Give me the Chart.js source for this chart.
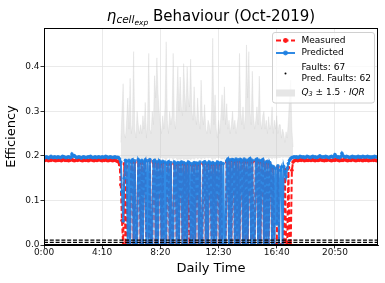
<!DOCTYPE html>
<html>
<head>
<meta charset="utf-8">
<script src="https://cdn.jsdelivr.net/npm/chart.js@4.4.0/dist/chart.umd.min.js"></script>
<style>
  html, body { margin: 0; padding: 0; background: #fff; }
</style>
</head>
<body>
<canvas id="effChart" width="385" height="283"></canvas>
<script>
// samples every 5 minutes, 0:00 -> 23:55
const stepMinutes = 5;

// measured efficiency (one row per hour)
const measured = [
  0.191,0.190,0.192,0.190,0.189,0.191,0.190,0.192,0.191,0.190,0.189,0.190,
  0.190,0.191,0.190,0.189,0.191,0.192,0.190,0.190,0.191,0.189,0.190,0.191,
  0.192,0.190,0.189,0.190,0.191,0.190,0.192,0.191,0.190,0.189,0.190,0.191,
  0.190,0.191,0.189,0.190,0.192,0.191,0.190,0.189,0.191,0.190,0.190,0.192,
  0.191,0.190,0.189,0.191,0.190,0.192,0.190,0.189,0.190,0.191,0.190,0.189,
  0.190,0.191,0.189,0.188,0.186,0.180,0.135,0.055,0.000,0.182,0.000,0.176,
  0.000,0.000,0.000,0.186,0.188,0.000,0.185,0.000,0.000,0.189,0.184,0.000,
  0.187,0.000,0.183,0.188,0.000,0.000,0.000,0.189,0.000,0.000,0.185,0.187,
  0.000,0.184,0.000,0.186,0.182,0.000,0.185,0.000,0.000,0.000,0.181,0.184,
  0.000,0.182,0.000,0.000,0.183,0.180,0.000,0.182,0.000,0.181,0.183,0.000,
  0.182,0.000,0.180,0.000,0.183,0.000,0.000,0.179,0.000,0.182,0.000,0.181,
  0.180,0.000,0.183,0.000,0.000,0.182,0.184,0.000,0.181,0.000,0.183,0.180,
  0.000,0.182,0.000,0.180,0.000,0.183,0.181,0.000,0.182,0.000,0.000,0.000,
  0.000,0.186,0.190,0.000,0.188,0.000,0.189,0.187,0.000,0.190,0.000,0.188,
  0.000,0.189,0.186,0.000,0.190,0.000,0.187,0.000,0.188,0.191,0.000,0.187,
  0.000,0.000,0.188,0.190,0.000,0.187,0.000,0.186,0.189,0.000,0.183,0.000,
  0.185,0.000,0.182,0.176,0.000,0.173,0.000,0.000,0.000,0.175,0.000,0.000,
  0.000,0.000,0.000,0.170,0.000,0.000,0.174,0.000,0.000,0.168,0.186,0.189,
  0.190,0.191,0.189,0.190,0.191,0.190,0.192,0.190,0.189,0.191,0.190,0.190,
  0.191,0.190,0.190,0.192,0.190,0.189,0.191,0.190,0.190,0.191,0.192,0.190,
  0.190,0.189,0.191,0.190,0.192,0.191,0.190,0.189,0.190,0.191,0.190,0.192,
  0.191,0.190,0.189,0.191,0.190,0.190,0.192,0.191,0.190,0.189,0.191,0.190,
  0.190,0.192,0.191,0.190,0.189,0.190,0.191,0.190,0.192,0.190,0.189,0.191,
  0.190,0.191,0.190,0.189,0.191,0.190,0.192,0.190,0.191,0.190,0.189,0.190
];

// predicted efficiency
const predicted = [
  0.197,0.196,0.198,0.197,0.195,0.197,0.199,0.197,0.196,0.198,0.197,0.196,
  0.198,0.197,0.196,0.197,0.199,0.198,0.197,0.196,0.197,0.198,0.197,0.196,
  0.204,0.199,0.201,0.198,0.196,0.197,0.198,0.197,0.195,0.197,0.198,0.197,
  0.196,0.197,0.198,0.197,0.199,0.197,0.196,0.197,0.198,0.196,0.197,0.198,
  0.197,0.196,0.198,0.197,0.197,0.199,0.198,0.196,0.197,0.198,0.197,0.196,
  0.197,0.198,0.196,0.197,0.196,0.193,0.186,0.120,0.054,0.150,0.190,0.188,
  0.000,0.190,0.000,0.188,0.191,0.000,0.189,0.000,0.000,0.192,0.187,0.000,
  0.190,0.000,0.186,0.191,0.000,0.189,0.000,0.192,0.000,0.000,0.188,0.190,
  0.000,0.187,0.000,0.189,0.185,0.000,0.188,0.000,0.186,0.000,0.184,0.187,
  0.000,0.185,0.000,0.000,0.186,0.183,0.000,0.185,0.000,0.184,0.186,0.000,
  0.185,0.000,0.183,0.000,0.186,0.184,0.000,0.182,0.000,0.185,0.000,0.184,
  0.183,0.000,0.186,0.000,0.000,0.185,0.187,0.000,0.184,0.000,0.186,0.183,
  0.000,0.185,0.000,0.183,0.000,0.186,0.184,0.000,0.185,0.000,0.183,0.000,
  0.000,0.189,0.193,0.000,0.191,0.000,0.192,0.190,0.000,0.193,0.000,0.191,
  0.000,0.192,0.189,0.000,0.193,0.000,0.190,0.000,0.191,0.194,0.000,0.190,
  0.000,0.000,0.191,0.193,0.000,0.190,0.000,0.189,0.192,0.000,0.186,0.000,
  0.188,0.000,0.185,0.179,0.000,0.176,0.000,0.172,0.047,0.178,0.000,0.168,
  0.175,0.000,0.176,0.165,0.153,0.172,0.183,0.190,0.194,0.196,0.197,0.198,
  0.197,0.198,0.196,0.197,0.199,0.198,0.197,0.198,0.196,0.197,0.199,0.198,
  0.197,0.196,0.198,0.199,0.197,0.198,0.196,0.197,0.198,0.200,0.198,0.197,
  0.198,0.197,0.199,0.198,0.197,0.196,0.198,0.199,0.197,0.198,0.203,0.199,
  0.197,0.198,0.196,0.198,0.206,0.200,0.198,0.197,0.199,0.198,0.197,0.196,
  0.198,0.199,0.197,0.198,0.196,0.198,0.199,0.197,0.198,0.197,0.199,0.198,
  0.197,0.198,0.199,0.197,0.198,0.196,0.198,0.197,0.199,0.198,0.197,0.198
];

// Q3 +- 1.5 IQR band, daytime only (starts at sample 66 = 5:30)
const bandStart = 66;
const bandUpper = [
  0.23,0.30,0.362,0.25,0.24,0.28,0.33,0.26,0.374,0.25,0.27,0.434,
  0.26,0.24,0.30,0.27,0.25,0.27,0.25,0.29,0.26,0.32,0.24,0.28,
  0.43,0.26,0.25,0.30,0.27,0.38,0.33,0.42,0.34,0.30,0.27,0.25,
  0.29,0.26,0.31,0.456,0.28,0.25,0.30,0.27,0.29,0.43,0.28,0.26,
  0.32,0.40,0.30,0.377,0.31,0.29,0.407,0.34,0.30,0.40,0.33,0.31,
  0.417,0.30,0.28,0.355,0.29,0.27,0.33,0.28,0.26,0.37,0.29,0.27,
  0.315,0.26,0.25,0.28,0.27,0.25,0.30,0.464,0.27,0.337,0.26,0.24,
  0.28,0.25,0.29,0.337,0.28,0.355,0.27,0.317,0.26,0.28,0.25,0.27,
  0.30,0.26,0.28,0.25,0.27,0.29,0.43,0.30,0.27,0.31,0.26,0.29,
  0.449,0.33,0.434,0.30,0.27,0.39,0.29,0.26,0.28,0.31,0.27,0.379,
  0.28,0.26,0.29,0.30,0.26,0.28,0.25,0.288,0.26,0.27,0.31,0.25,
  0.28,0.26,0.29,0.25,0.27,0.27,0.24,0.26,0.25,0.23,0.254,0.24,
  0.28,0.33,0.37,0.26,0.22
];
const bandLower = [
  0.196,0.194,0.192,0.195,0.196,0.193,0.191,0.195,0.190,0.196,0.194,0.189,
  0.195,0.196,0.193,0.194,0.196,0.194,0.195,0.193,0.195,0.192,0.196,0.194,
  0.190,0.195,0.196,0.193,0.194,0.191,0.192,0.190,0.192,0.193,0.195,0.196,
  0.193,0.195,0.192,0.189,0.194,0.196,0.193,0.195,0.194,0.190,0.194,0.195,
  0.192,0.190,0.193,0.191,0.192,0.194,0.190,0.192,0.193,0.190,0.192,0.193,
  0.190,0.193,0.194,0.191,0.194,0.195,0.192,0.194,0.195,0.191,0.194,0.195,
  0.192,0.195,0.196,0.194,0.195,0.196,0.193,0.189,0.195,0.192,0.195,0.196,
  0.194,0.196,0.193,0.192,0.194,0.191,0.195,0.192,0.195,0.194,0.196,0.195,
  0.193,0.195,0.194,0.196,0.195,0.193,0.190,0.193,0.195,0.192,0.195,0.193,
  0.189,0.192,0.190,0.193,0.195,0.191,0.194,0.195,0.194,0.192,0.195,0.191,
  0.194,0.195,0.193,0.193,0.195,0.194,0.196,0.193,0.195,0.195,0.192,0.196,
  0.194,0.195,0.193,0.196,0.195,0.195,0.197,0.196,0.196,0.197,0.196,0.197,
  0.194,0.192,0.191,0.196,0.198
];

// horizontal dashed reference levels near zero
const faultLevels = [0.011, 0.006];
const faultCounts = { measured: 67, predicted: 62 };

// axis ticks
const xTickMinutes = [0, 250, 500, 750, 1000, 1250];
const yTickValues = [0.0, 0.1, 0.2, 0.3, 0.4];
const yMax = 0.487;

const timeMinutes = measured.map((v, i) => i * stepMinutes);
const lastMinute = timeMinutes[timeMinutes.length - 1];

function toPoints(values) {
  return values.map((v, i) => ({ x: timeMinutes[i], y: v }));
}
function bandPoints(values) {
  return values.map((v, i) => ({ x: timeMinutes[bandStart + i], y: v }));
}
function fmtTime(m) {
  const h = Math.floor(m / 60);
  const mm = m % 60;
  return h + ':' + String(mm).padStart(2, '0');
}

const RED = '#ff1a1a';
const BLUE = 'rgba(30,128,226,0.92)';
const BAND = 'rgba(195,195,195,0.38)';
const FONT = '"DejaVu Sans", sans-serif';

const datasets = [
  {
    label: 'band lower',
    data: bandPoints(bandLower),
    borderWidth: 0,
    pointRadius: 0,
    fill: false,
    order: 4
  },
  {
    label: 'band upper',
    data: bandPoints(bandUpper),
    borderColor: 'rgba(205,205,205,0.5)',
    borderWidth: 0.6,
    backgroundColor: BAND,
    pointRadius: 0,
    fill: '-1',
    order: 3
  },
  {
    label: 'Measured',
    data: toPoints(measured),
    borderColor: RED,
    borderWidth: 2,
    borderDash: [5, 2.5],
    pointRadius: 1.8,
    pointBorderWidth: 0,
    pointBackgroundColor: RED,
    order: 2
  },
  {
    label: 'Predicted',
    data: toPoints(predicted),
    borderColor: BLUE,
    borderWidth: 2,
    pointRadius: 1.8,
    pointBorderWidth: 0,
    pointBackgroundColor: BLUE,
    order: 1
  }
];
faultLevels.forEach((lvl, k) => {
  datasets.push({
    label: 'level ' + k,
    data: [{ x: timeMinutes[0], y: lvl }, { x: lastMinute, y: lvl }],
    borderColor: '#000',
    borderWidth: 1.2,
    borderDash: [4, 1.8],
    pointRadius: 0,
    order: 0
  });
});

// title, frame and legend drawn matplotlib-style
const decorations = {
  id: 'decorations',
  afterDraw(chart) {
    const ctx = chart.ctx;
    const a = chart.chartArea;
    ctx.save();

    // frame
    ctx.strokeStyle = '#000';
    ctx.lineWidth = 1;
    ctx.strokeRect(Math.floor(a.left) + 0.5, Math.floor(a.top) + 0.5,
      Math.round(a.right - a.left) - 1, Math.round(a.bottom - a.top) - 1);

    // title
    const parts = [
      { t: 'η', font: 'italic 15px ' + FONT, dy: 0 },
      { t: 'cell', font: 'italic 10.5px ' + FONT, dy: 2 },
      { t: 'exp', font: 'italic 7.5px ' + FONT, dy: 4.3 },
      { t: ' Behaviour (Oct-2019)', font: '15px ' + FONT, dy: 0 }
    ];
    let total = 0;
    parts.forEach(p => { ctx.font = p.font; p.w = ctx.measureText(p.t).width; total += p.w; });
    let x = (a.left + a.right) / 2 - total / 2;
    ctx.fillStyle = '#000';
    ctx.textBaseline = 'alphabetic';
    ctx.textAlign = 'left';
    parts.forEach(p => { ctx.font = p.font; ctx.fillText(p.t, x, 20.5 + p.dy); x += p.w; });

    // legend box
    const lx = 272.5, ly = 32.5, lw = 102, lh = 70.5, r = 2.5;
    ctx.beginPath();
    ctx.moveTo(lx + r, ly);
    ctx.arcTo(lx + lw, ly, lx + lw, ly + lh, r);
    ctx.arcTo(lx + lw, ly + lh, lx, ly + lh, r);
    ctx.arcTo(lx, ly + lh, lx, ly, r);
    ctx.arcTo(lx, ly, lx + lw, ly, r);
    ctx.closePath();
    ctx.fillStyle = 'rgba(255,255,255,0.8)';
    ctx.fill();
    ctx.strokeStyle = '#d0d0d0';
    ctx.lineWidth = 1;
    ctx.stroke();

    const hx0 = 276, hx1 = 295, hxc = 285.5, tx = 301.5;
    ctx.font = '9px ' + FONT;
    ctx.textBaseline = 'middle';

    // Measured
    ctx.strokeStyle = RED; ctx.lineWidth = 2; ctx.setLineDash([5, 2.5]);
    ctx.beginPath(); ctx.moveTo(hx0, 40.5); ctx.lineTo(hx1, 40.5); ctx.stroke();
    ctx.setLineDash([]);
    ctx.fillStyle = RED;
    ctx.beginPath(); ctx.arc(hxc, 40.5, 2.4, 0, Math.PI * 2); ctx.fill();
    ctx.fillStyle = '#000'; ctx.fillText('Measured', tx, 40.5);

    // Predicted
    ctx.strokeStyle = BLUE; ctx.lineWidth = 2;
    ctx.beginPath(); ctx.moveTo(hx0, 53); ctx.lineTo(hx1, 53); ctx.stroke();
    ctx.fillStyle = BLUE;
    ctx.beginPath(); ctx.arc(hxc, 53, 2.4, 0, Math.PI * 2); ctx.fill();
    ctx.fillStyle = '#000'; ctx.fillText('Predicted', tx, 53);

    // Faults
    ctx.beginPath(); ctx.arc(hxc, 73.5, 1, 0, Math.PI * 2); ctx.fill();
    ctx.fillText('Faults: ' + faultCounts.measured, tx, 67.5);
    ctx.fillText('Pred. Faults: ' + faultCounts.predicted, tx, 78.5);

    // band
    ctx.fillStyle = '#e6e6e6';
    ctx.fillRect(hx0, 89.5, hx1 - hx0, 7);
    ctx.fillStyle = '#000';
    let qx = tx;
    const qy = 92.5;
    const seg = [
      { t: 'Q', font: 'italic 9px ' + FONT, dy: 0 },
      { t: '3', font: 'italic 6.5px ' + FONT, dy: 1.8 },
      { t: ' ± 1.5 · ', font: '9px ' + FONT, dy: 0 },
      { t: 'IQR', font: 'italic 9px ' + FONT, dy: 0 }
    ];
    seg.forEach(s => { ctx.font = s.font; ctx.fillText(s.t, qx, qy + s.dy); qx += ctx.measureText(s.t).width; });

    ctx.restore();
  }
};

new Chart(document.getElementById('effChart').getContext('2d'), {
  type: 'line',
  data: { datasets: datasets },
  options: {
    responsive: false,
    animation: false,
    events: [],
    devicePixelRatio: 1,
    layout: { padding: { top: 28, right: 7, left: 0, bottom: 0 } },
    elements: { line: { tension: 0 } },
    plugins: {
      legend: { display: false },
      title: { display: false },
      tooltip: { enabled: false }
    },
    scales: {
      x: {
        type: 'linear',
        min: 0,
        max: lastMinute,
        afterFit(s) { s.height = 38; },
        afterBuildTicks(s) { s.ticks = xTickMinutes.map(v => ({ value: v })); },
        grid: { color: '#e4e4e4', lineWidth: 0.8, tickColor: '#000', tickLength: 3.5 },
        border: { color: '#000', width: 1 },
        ticks: {
          autoSkip: false, maxRotation: 0, padding: -1,
          color: '#111', font: { family: FONT, size: 9 },
          callback: v => fmtTime(v)
        },
        title: {
          display: true, text: 'Daily Time', color: '#000',
          font: { family: FONT, size: 13 }, padding: { top: 0, bottom: 7 }
        }
      },
      y: {
        min: 0,
        max: yMax,
        afterFit(s) { s.width = 44; },
        afterBuildTicks(s) { s.ticks = yTickValues.map(v => ({ value: v })); },
        grid: { color: '#e4e4e4', lineWidth: 0.8, tickColor: '#000', tickLength: 3.5 },
        border: { color: '#000', width: 1 },
        ticks: {
          padding: 1, color: '#111', font: { family: FONT, size: 9 },
          callback: v => v.toFixed(1)
        },
        title: {
          display: true, text: 'Efficiency', color: '#000',
          font: { family: FONT, size: 13 }, padding: { top: 4, bottom: 0 }
        }
      }
    }
  },
  plugins: [decorations]
});
</script>
</body>
</html>
